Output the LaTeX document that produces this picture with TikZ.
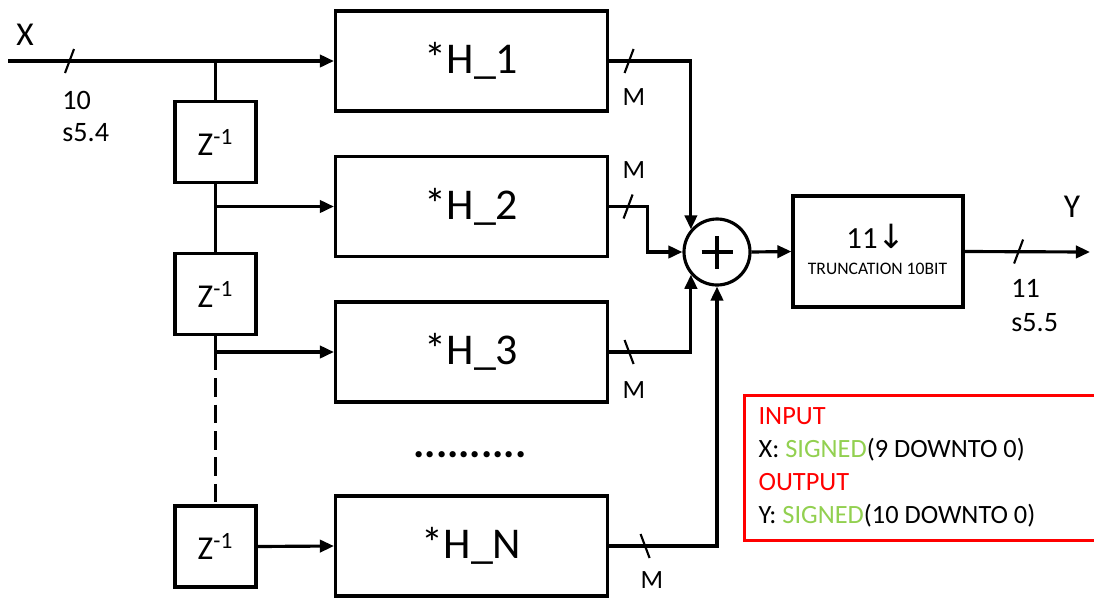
\documentclass[tikz,border=0pt]{standalone}
\usepackage{fontspec}
\setmainfont{Carlito}
\newfontfamily\simbolos{DejaVu Sans}
\usetikzlibrary{arrows.meta,calc}
\definecolor{notaRojo}{HTML}{FF0000}
\definecolor{notaVerde}{HTML}{92D050}

\begin{document}
\begin{tikzpicture}[
    line width=1.8pt,
    flecha/.style={-{Triangle[length=8pt,width=7pt]}},
    filtro/.style={draw, minimum width=5.44cm, minimum height=2cm, font=\fontsize{25}{30}\selectfont},
    retardo/.style={draw, minimum width=1.62cm, minimum height=1.62cm, font=\fontsize{19}{22}\selectfont},
    etiq/.style={font=\fontsize{16}{19}\selectfont},
    anchoM/.style={font=\fontsize{15}{18}\selectfont},
    bus/.style={line width=1.2pt}
  ]
  \useasboundingbox (0,0) rectangle (21.88,-11.94);

  % bloques
  \node[filtro] (h1) at (9.43,-1.22) {*H\_1};
  \node[filtro] (h2) at (9.43,-4.13) {*H\_2};
  \node[filtro] (h3) at (9.43,-7.04) {*H\_3};
  \node[filtro] (hN) at (9.43,-10.92) {*H\_N};
  \node[retardo] (z1) at (4.31,-2.84) {Z\textsuperscript{-1}};
  \node[retardo] (z2) at (4.31,-5.88) {Z\textsuperscript{-1}};
  \node[retardo] (z3) at (4.31,-10.93) {Z\textsuperscript{-1}};
  \node[draw, circle, minimum size=1.32cm, inner sep=0pt] (sum) at (14.34,-5.04) {};
  \draw[line width=2.4pt] ($(sum.center)+(-0.31,0)$) -- ($(sum.center)+(0.31,0)$);
  \draw[line width=2.4pt] ($(sum.center)+(0,-0.33)$) -- ($(sum.center)+(0,0.33)$);
  \node[draw, minimum width=3.4cm, minimum height=2.22cm] (trunc) at (17.56,-5.03) {};
  \node[font=\fontsize{17.5}{20}\selectfont] (truncbits) at (17.52,-4.72) {11{\simbolos\fontsize{19}{20}\selectfont ↓}};
  \node[font=\fontsize{10}{12}\selectfont] (trunctxt) at (17.55,-5.38) {TRUNCATION 10BIT};

  % entrada y retardos
  \coordinate (xin) at (0.16,-1.22);
  \draw[flecha] (xin) -- (h1.west);
  \draw (z1.north) -- (z1.north |- h1.west);
  \draw (z1.south) -- (z2.north);
  \draw[flecha] (z1.south |- h2.west) -- (h2.west);
  \draw (z2.south) -- (z2.south |- h3.west);
  \draw[flecha] (z2.south |- h3.west) -- (h3.west);
  \draw[dash pattern=on 10.5pt off 4.5pt] (z2.south |- h3.west) -- (z3.north);
  \draw[flecha] (z3.east) -- (hN.west);

  % salidas al sumador
  \draw[flecha] (h1.east) -- (h1.east -| sum.139) -- (sum.139);
  \draw[flecha] (h2.east) -- ++(0.76,0) |- (sum.west);
  \draw[flecha] (h3.east) -- (h3.east -| sum.221) -- (sum.221);
  \draw[flecha] (hN.east) -| (sum.south);
  \draw[flecha] (sum.east) -- (trunc.west);
  \coordinate (yout) at (21.8,-5.04);
  \draw[flecha] (trunc.east) -- (yout);

  % marcas de bus
  \draw[bus] ($(xin)+(1.23,0)$) ++(-0.09,-0.24) -- ++(0.18,0.48);
  \draw[bus] ($(h1.east)+(0.4,0)$) ++(-0.09,-0.24) -- ++(0.18,0.48);
  \draw[bus] ($(h2.east)+(0.38,0)$) ++(-0.09,-0.24) -- ++(0.18,0.48);
  \draw[bus] ($(h3.east)+(0.4,0)$) ++(-0.09,0.24) -- ++(0.18,-0.48);
  \draw[bus] ($(hN.east)+(0.72,0)$) ++(-0.09,0.24) -- ++(0.18,-0.48);
  \draw[bus] ($(trunc.east)+(1.08,0)$) ++(-0.09,-0.24) -- ++(0.18,0.48);

  % etiquetas
  \node[font=\fontsize{19}{22}\selectfont] (xlab) at (0.5,-0.7) {X};
  \node[etiq, anchor=west] (xbits) at (1.1,-2.0) {10};
  \node[etiq, anchor=west] (xfmt) at (1.1,-2.66) {s5.4};
  \node[anchoM] (m1) at (12.68,-1.94) {M};
  \node[anchoM] (m2) at (12.68,-3.4) {M};
  \node[anchoM] (m3) at (12.68,-7.8) {M};
  \node[anchoM] (mN) at (13.04,-11.6) {M};
  \node[font=\fontsize{19}{22}\selectfont] (ylab) at (21.44,-4.14) {Y};
  \node[etiq, anchor=west] (ybits) at (20.08,-5.76) {11};
  \node[etiq, anchor=west] (yfmt) at (20.08,-6.46) {s5.5};
  \node[font=\fontsize{24}{28}\selectfont\bfseries] (puntos) at (9.4,-9.1) {..........};

  % nota de puertos
  \node[anchor=north west, minimum height=2.84cm, inner xsep=0.26cm, align=flush left,
        font=\fontsize{15}{18.7}\selectfont] (nota) at (14.88,-7.9)
    {{\color{notaRojo}INPUT}\\
     X: {\color{notaVerde}SIGNED}(9 DOWNTO 0)\\
     {\color{notaRojo}OUTPUT}\\
     Y: {\color{notaVerde}SIGNED}(10 DOWNTO 0)};
  \draw[notaRojo, line width=1.7pt] ($(nota.north west)+(7.0,0)$) -- (nota.north west)
    -- (nota.south west) -- ++(7.0,0);
\end{tikzpicture}
\end{document}
